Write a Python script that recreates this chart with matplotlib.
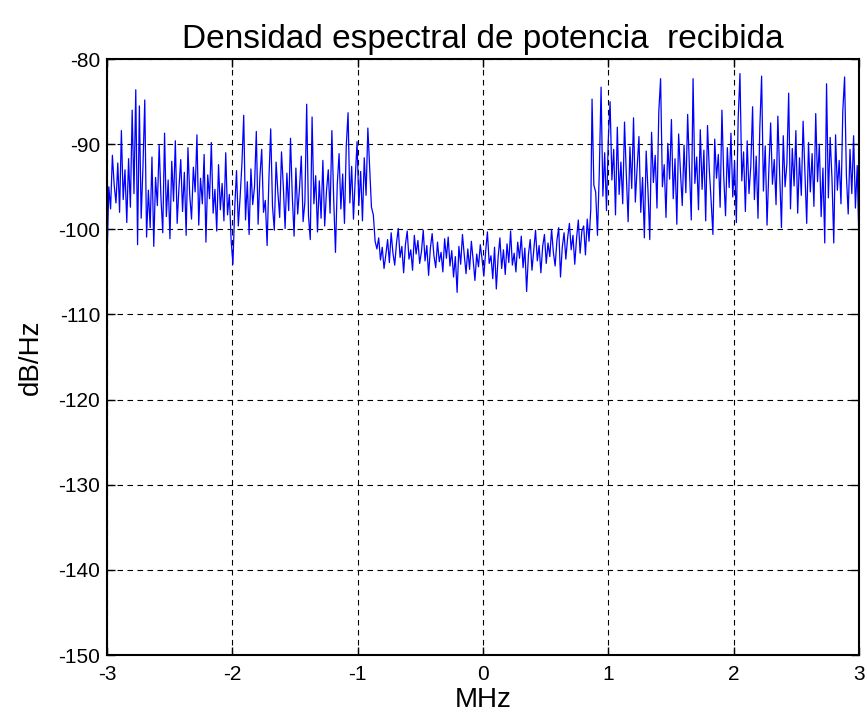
import numpy as np
from matplotlib import pyplot as plt

# PSD (dB/Hz), tres tramos de la banda
psd_left = [
    -104.0, -95.0, -97.6, -91.3, -94.8, -96.9, -92.2, -98.0, -88.4, -96.5,
    -93.0, -99.2, -91.7, -97.4, -86.0, -95.8, -83.6, -101.8, -85.5, -98.7,
    -92.6, -84.8, -100.9, -95.4, -99.8, -91.5, -102.0, -93.9, -97.2, -90.1,
    -96.3, -100.4, -88.7, -98.5, -94.2, -101.1, -92.0, -96.7, -89.6, -99.3,
    -95.1, -91.8, -97.9, -93.3, -100.7, -90.4, -96.0, -98.8, -92.7, -95.6,
    -88.9, -99.5, -94.0, -97.0, -91.2, -101.5, -93.6, -96.4, -89.8, -98.1,
    -95.3, -100.2, -92.4, -97.7, -94.6, -99.0, -91.0, -98.3, -95.9, -101.3,
    -104.1, -97.5, -93.1, -99.6, -96.2, -92.3, -86.6, -98.9, -94.4, -100.6,
    -92.9, -97.1, -95.0, -88.5, -99.4, -93.8, -90.6, -98.0, -96.6, -101.9,
    -94.1, -88.2, -97.3, -100.1, -92.1, -95.7, -98.6, -90.9, -94.9, -99.9,
    -93.4, -97.8, -89.3, -96.1, -100.8, -92.8, -98.2, -95.2, -91.4, -99.1,
    -96.8, -85.3, -98.4, -101.2, -86.8, -97.0, -93.7, -100.3, -94.3, -98.7,
    -91.9, -99.6, -95.5, -93.0, -98.1, -88.4, -96.4, -102.7, -94.7, -91.1,
    -97.6, -93.5, -99.3, -90.2, -86.3, -96.9, -92.6, -98.8, -94.0, -89.7,
    -97.2, -93.2, -99.0, -91.6, -96.0, -88.1, -92.8, -97.4,
]
psd_mid = [
    -98.3, -101.4, -102.3, -101.0, -103.6, -102.1, -104.6, -103.0, -101.2, -103.9,
    -100.4, -102.8, -104.2, -101.6, -99.9, -103.3, -102.0, -105.1, -101.8, -100.2,
    -103.5, -102.4, -104.8, -100.7, -102.9, -101.3, -104.0, -102.6, -100.1, -103.7,
    -101.9, -105.4, -102.2, -100.5, -103.1, -104.5, -101.5, -103.8, -102.7, -105.0,
    -101.1, -103.4, -100.9, -104.3, -102.5, -105.6, -103.2, -107.4, -102.0, -104.1,
    -100.6, -103.0, -105.2, -102.3, -104.7, -101.4, -103.6, -106.0, -102.9, -104.4,
    -101.8, -103.5, -105.5, -102.6, -100.3, -104.0, -103.1, -105.8, -102.1, -107.0,
    -103.3, -101.0, -104.6, -102.4, -105.3, -101.7, -103.9, -100.2, -104.2, -102.8,
    -105.0, -101.5, -103.4, -100.8, -104.5, -102.2, -107.3, -103.0, -101.2, -104.8,
    -102.5, -100.1, -103.7, -101.9, -105.1, -102.0, -100.6, -104.0, -101.6, -103.2,
    -100.0, -102.7, -104.3, -101.3, -99.8, -105.6, -102.1, -100.4, -103.5, -101.0,
    -99.3, -102.4, -100.7, -104.1, -101.1, -98.9, -102.8, -100.2, -99.6, -103.0,
    -98.8, -101.4, -97.6,
]
psd_right = [
    -84.7, -94.8, -95.6, -100.7, -93.4, -83.3, -96.1, -91.0, -97.8, -89.5,
    -85.0, -94.2, -90.6, -98.3, -88.0, -95.9, -92.1, -97.0, -87.4, -93.6,
    -99.1, -90.3, -95.2, -86.9, -96.8, -92.7, -89.1, -98.0, -93.9, -101.0,
    -90.8, -95.4, -101.2, -88.6, -94.5, -91.3, -97.5, -86.2, -82.3, -95.0,
    -92.4, -98.6, -89.9, -94.1, -87.1, -96.4, -91.7, -99.4, -88.8, -93.2,
    -97.2, -90.1, -95.7, -86.5, -92.9, -98.9, -82.3, -94.6, -91.5, -97.7,
    -88.3, -95.3, -90.7, -99.0, -87.8, -93.0, -96.6, -100.6, -89.4, -94.0,
    -91.2, -97.4, -86.0, -93.8, -98.4, -90.4, -95.1, -88.7, -96.2, -92.0,
    -99.2, -87.0, -81.7, -94.3, -90.9, -97.9, -89.6, -95.8, -92.6, -85.6,
    -96.5, -91.4, -98.7, -88.1, -82.0, -95.5, -90.2, -99.5, -93.1, -87.5,
    -94.7, -91.8, -97.1, -86.7, -93.5, -99.8, -89.0, -95.0, -92.3, -84.0,
    -97.6, -90.5, -94.9, -88.4, -98.1, -91.6, -96.0, -87.3, -93.3, -99.3,
    -89.8, -95.6, -91.1, -97.3, -86.4, -94.4, -90.0, -98.5, -92.8, -101.6,
    -82.9, -96.3, -89.2, -94.0, -101.6, -88.9, -95.4, -91.9, -97.0, -86.1,
    -82.1, -93.7, -98.2, -90.6, -95.8, -89.0, -97.5, -92.5, -102.0,
]
# limites de cada tramo en MHz
tramos = [(-3.0, -0.89), (-0.875, 0.86), (0.87, 3.0)]

xticks = [-3, -2, -1, 0, 1, 2, 3]
yticks = [-150, -140, -130, -120, -110, -100, -90, -80]

plt.rcParams['font.family'] = ['Liberation Sans', 'DejaVu Sans']
plt.rcParams['axes.unicode_minus'] = False

freq = np.concatenate([np.linspace(a, b, len(v)) for (a, b), v in
                       zip(tramos, [psd_left, psd_mid, psd_right])])
psd = np.concatenate([psd_left, psd_mid, psd_right])

fig = plt.figure(figsize=(8.67, 7.18), dpi=100)
ax = fig.add_axes([0.1234, 0.0877, 0.8674, 0.830])
ax.plot(freq, psd, color='#0000ff', linewidth=0.9)

ax.set_xlim(-3, 3)
ax.set_ylim(-150, -80)
ax.set_xticks(xticks)
ax.set_yticks(yticks)
ax.set_xticklabels([str(t) for t in xticks])
ax.set_yticklabels([str(t) for t in yticks])
ax.tick_params(direction='in', top=True, right=True, labelsize=15, length=6, width=1)
ax.tick_params(axis='x', pad=7)
ax.tick_params(axis='y', pad=5)
ax.grid(True, color='black', linestyle=(0, (5, 4)), linewidth=0.8)
for s in ax.spines.values():
    s.set_linewidth(1.5)

ax.set_title('Densidad espectral de potencia  recibida', fontsize=24, pad=8)
ax.set_xlabel('MHz', fontsize=20, labelpad=2)
ax.set_ylabel('dB/Hz', fontsize=20, labelpad=10)

plt.savefig('out.png', dpi=100)
